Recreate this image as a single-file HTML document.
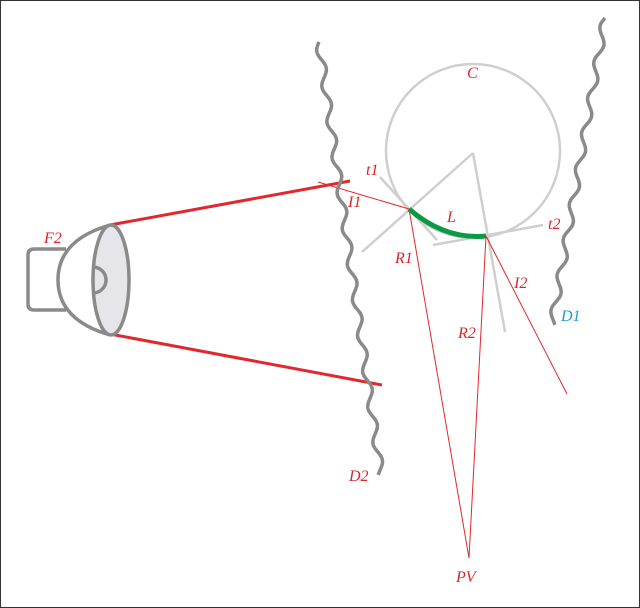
<!DOCTYPE html>
<html><head><meta charset="utf-8"><style>
html,body{margin:0;padding:0;background:#fff}
svg{display:block}
text{font-family:"Liberation Serif",serif;font-style:italic;font-size:16px;fill:#d9252a}
</style></head><body>
<svg id="s" width="640" height="608" viewBox="0 0 640 608" xmlns="http://www.w3.org/2000/svg">
<rect x="0.5" y="0.5" width="639" height="607" fill="#fff" stroke="#333" stroke-width="1"/>
<circle cx="473" cy="151" r="87" fill="none" stroke="#cfcfcf" stroke-width="2.5"/>
<g stroke="#cfcfcf" stroke-width="2.5" fill="none">
<line x1="362" y1="252" x2="473" y2="153"/>
<line x1="473" y1="153" x2="505" y2="332"/>
<line x1="380" y1="177" x2="437" y2="240"/>
<line x1="433" y1="245" x2="543" y2="225"/>
</g>
<path d="M409 209 Q445 240 486 236" fill="none" stroke="#0a9a43" stroke-width="5"/>
<g stroke="#e0282e" stroke-width="1" fill="none">
<line x1="318" y1="182" x2="409" y2="209"/>
<line x1="409" y1="209" x2="469" y2="558"/>
<line x1="486" y1="236" x2="469" y2="558"/>
<line x1="486" y1="236" x2="567" y2="394"/>
</g>
<g stroke="#e0282e" stroke-width="3">
<line x1="110" y1="225" x2="350" y2="181"/>
<line x1="110" y1="334" x2="382" y2="385"/>
</g>
<path id="d2" fill="none" stroke="#8a8a8a" stroke-width="3.5"/>
<path id="d1" fill="none" stroke="#8a8a8a" stroke-width="3.5"/>
<g stroke="#8a8a8a" stroke-width="3.5" fill="none">
<path d="M66 249 H34 Q28 249 28 255 V304 Q28 310 34 310 H66"/>
<path d="M110 225 Q58 240 58 280 Q58 320 110 335" fill="#fff"/>
<ellipse cx="111" cy="280" rx="18" ry="55" fill="#e6e6ea"/>
<path d="M93 267 A13 13 0 0 1 93 293"/>
</g>
<text x="467" y="78">C</text>
<text x="366" y="175">t1</text>
<text x="348" y="207">I1</text>
<text x="447" y="222">L</text>
<text x="548" y="229">t2</text>
<text x="395" y="263">R1</text>
<text x="514" y="288">I2</text>
<text x="561" y="321" style="fill:#1a9ad6">D1</text>
<text x="458" y="338">R2</text>
<text x="349" y="481">D2</text>
<text x="456" y="582">PV</text>
<text x="44" y="243">F2</text>
</svg>
<script>
function wave(x0,y0,x1,y1,wl,a){
 var dx=x1-x0,dy=y1-y0,L=Math.sqrt(dx*dx+dy*dy),ux=dx/L,uy=dy/L,nx=-uy,ny=ux,d="";
 for(var t=0;t<=L;t+=1){var o=a*Math.sin(t/wl*2*Math.PI);var x=x0+ux*t+nx*o,y=y0+uy*t+ny*o;d+=(t?"L":"M")+x.toFixed(1)+" "+y.toFixed(1);}
 return d;}
document.getElementById("d2").setAttribute("d",wave(319,42,381,475,36,3.5));
document.getElementById("d1").setAttribute("d",wave(605,18,552,325,36,3.5));
</script>
</body></html>
